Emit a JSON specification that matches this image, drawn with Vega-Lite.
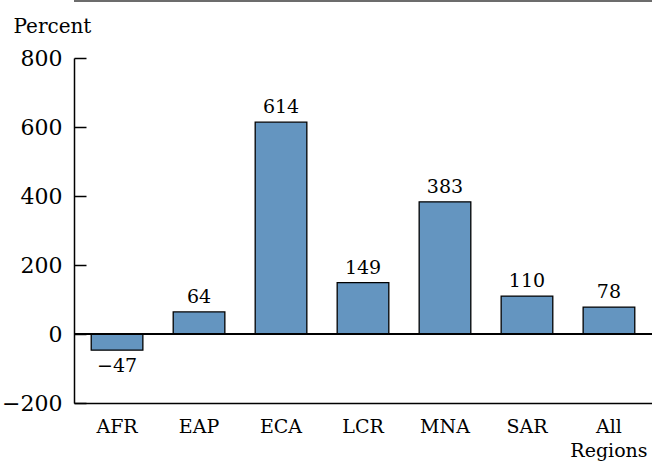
{
  "$schema": "https://vega.github.io/schema/vega-lite/v6.json",
  "autosize": {"type": "none"},
  "padding": {"left": 74, "top": 58, "right": 0, "bottom": 58},
  "width": 578,
  "height": 345,
  "background": "white",
  "config": {
    "view": {"stroke": null},
    "font": "DejaVu Serif"
  },
  "data": {
    "values": [
      {"region": "AFR", "value": -47},
      {"region": "EAP", "value": 64},
      {"region": "ECA", "value": 614},
      {"region": "LCR", "value": 149},
      {"region": "MNA", "value": 383},
      {"region": "SAR", "value": 110},
      {"region": "All Regions", "value": 78}
    ]
  },
  "layer": [
    {
      "mark": {"type": "bar", "color": "#6495c0", "stroke": "black", "strokeWidth": 1.3},
      "encoding": {
        "x": {
          "field": "region",
          "type": "nominal",
          "sort": null,
          "scale": {"paddingInner": 0.37, "paddingOuter": 0.21},
          "axis": {
            "title": null,
            "labelAngle": 0,
            "ticks": false,
            "labelFont": "DejaVu Serif",
            "labelFontSize": 19,
            "labelColor": "black",
            "labelPadding": 14,
            "labelLineHeight": 24,
            "labelExpr": "datum.value == 'All Regions' ? ['All', 'Regions'] : datum.value",
            "domainColor": "black",
            "domainWidth": 1.5
          }
        },
        "y": {
          "field": "value",
          "type": "quantitative",
          "scale": {"domain": [-200, 800], "nice": false},
          "axis": {
            "title": "Percent",
            "titleAngle": 0,
            "titleAlign": "left",
            "titleBaseline": "alphabetic",
            "titleX": -61,
            "titleY": -26,
            "titleFont": "DejaVu Serif",
            "titleFontSize": 20,
            "titleFontWeight": "normal",
            "titleColor": "black",
            "values": [-200, 0, 200, 400, 600, 800],
            "grid": false,
            "tickSize": -12,
            "tickColor": "black",
            "tickWidth": 1.5,
            "labelPadding": 24,
            "labelFont": "DejaVu Serif",
            "labelFontSize": 22,
            "labelColor": "black",
            "domainColor": "black",
            "domainWidth": 1.5
          }
        }
      }
    },
    {
      "mark": {"type": "rule", "color": "black", "strokeWidth": 1.5},
      "encoding": {"y": {"datum": 0}}
    },
    {
      "mark": {"type": "rule", "color": "#6d6d6d", "strokeWidth": 1.5},
      "encoding": {"y": {"datum": 965}}
    },
    {
      "transform": [{"filter": "datum.value >= 0"}],
      "mark": {"type": "text", "baseline": "bottom", "dy": -5, "fontSize": 19, "font": "DejaVu Serif", "color": "black"},
      "encoding": {
        "x": {"field": "region", "type": "nominal", "sort": null},
        "y": {"field": "value", "type": "quantitative"},
        "text": {"field": "value", "type": "quantitative", "format": "d"}
      }
    },
    {
      "transform": [{"filter": "datum.value < 0"}],
      "mark": {"type": "text", "baseline": "top", "dy": 7, "fontSize": 19, "font": "DejaVu Serif", "color": "black"},
      "encoding": {
        "x": {"field": "region", "type": "nominal", "sort": null},
        "y": {"field": "value", "type": "quantitative"},
        "text": {"field": "value", "type": "quantitative", "format": "d"}
      }
    }
  ]
}
